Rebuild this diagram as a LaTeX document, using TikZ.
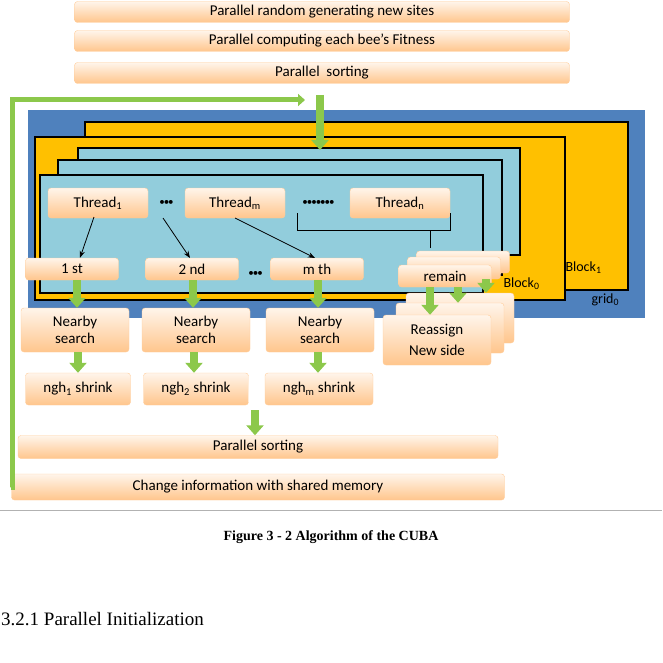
\documentclass[tikz,border=0pt]{standalone}
\usepackage{fontspec}
\setmainfont{Carlito}
\newfontfamily\timesf{Liberation Serif}
\usetikzlibrary{arrows.meta,calc}
\newcommand{\sbs}[1]{\textsubscript{#1}}
\newcommand{\bdots}[1]{\foreach \i in {1,...,#1}{\textbullet\kern-1pt}}
\begin{document}
\begin{tikzpicture}[x=1pt,y=-1pt,
  box/.style={draw=orange!40, rounded corners=3pt, top color=orange!8, bottom color=orange!45, inner sep=0pt, font=\fontsize{15}{17}\selectfont, align=center},
  karrow/.style={draw=black, thick, -{Stealth[length=7pt]}},
  panel/.style={draw=black, line width=1.4pt},
  dots/.style={font=\fontsize{11}{11}\selectfont}]
\useasboundingbox (0,0) rectangle (662,663);
\definecolor{gr}{HTML}{8CC84B}
\tikzset{garrow/.style={draw=gr, line width=8pt, -{Triangle[length=10pt,width=17pt]}}}
% top boxes
\node[box, minimum width=495, minimum height=21] (b1) at (322,12) {Parallel random generating new sites};
\node[box, minimum width=495, minimum height=21] (b2) at (322,41) {Parallel computing each bee’s Fitness};
\node[box, minimum width=495, minimum height=21] (b3) at (322,73) {Parallel\ \ sorting};
% grid and blocks
\fill[fill={rgb,255:red,79;green,129;blue,189}] (28,110) rectangle (645,318);
\draw[panel, fill={rgb,255:red,255;green,192;blue,0}] (85,122) rectangle (628,290);
\draw[panel, fill={rgb,255:red,255;green,192;blue,0}] (35,137) rectangle (565,300);
\draw[panel, fill={rgb,255:red,146;green,205;blue,220}] (78,148) rectangle (520,255);
\draw[panel, fill={rgb,255:red,146;green,205;blue,220}] (58,160) rectangle (502,275);
\draw[panel, fill={rgb,255:red,146;green,205;blue,220}] (40,175) rectangle (483,293);
\node[font=\fontsize{14}{15}\selectfont, anchor=west] (lb1) at (562,268) {Block\sbs{1}};
\node[font=\fontsize{14}{15}\selectfont, anchor=west] (lb0) at (500,284) {Block\sbs{0}};
\node[font=\fontsize{14}{15}\selectfont, anchor=west] (lg) at (588,300) {grid\sbs{0}};
% green arrow into grid
\coordinate (ga) at (320,95);
\coordinate (gb) at (320,150);
\draw[garrow] (ga) -- (gb);
% threads
\node[box, minimum width=100, minimum height=30] (t1) at (98,203) {Thread\sbs{1}};
\node[box, minimum width=100, minimum height=30] (tm) at (235,203) {Thread\sbs{m}};
\node[box, minimum width=100, minimum height=30] (tn) at (400,203) {Thread\sbs{n}};
\node[dots] (d1) at (166,203) {\bdots{3}};
\node[dots] (d2) at (318,203) {\bdots{7}};
% brace
\coordinate (br1) at (297,213);
\coordinate (br2) at (450,213);
\coordinate (brm) at (430,248);
\draw[thick] (br1) -- (297,230) -- (450,230) -- (br2);
\draw[thick] (430,230) -- (brm);
% result labels
\node[box, minimum width=93, minimum height=22] (r1) at (72,269) {1 st};
\node[box, minimum width=93, minimum height=22] (r2) at (192,269) {2 nd};
\node[box, minimum width=93, minimum height=22] (rm) at (317,269) {m th};
\node[dots] (d3) at (255,274) {\bdots{3}};
\node[box, minimum width=93, minimum height=22] (rs3) at (463,262) {};
\node[box, minimum width=93, minimum height=22] (rs2) at (454,268) {};
\node[box, minimum width=93, minimum height=22] (rs) at (445,276) {remain};
\draw[karrow] (94,217) -- (r1.north -| 80,0);
\draw[karrow] (163,218) -- (190,258);
\draw[karrow] (235,218) -- (315,258);
% nearby
\node[box, minimum width=108, minimum height=44] (n1) at (75,330) {Nearby\\search};
\node[box, minimum width=108, minimum height=44] (n2) at (196,330) {Nearby\\search};
\node[box, minimum width=108, minimum height=44] (nm) at (320,330) {Nearby\\search};
\node[box, minimum width=108, minimum height=50] (ra3) at (460,318) {};
\node[box, minimum width=108, minimum height=50] (ra2) at (450,328) {};
\node[box, minimum width=108, minimum height=50] (ra) at (437,340) {Reassign\\[4pt]New side};
\draw[garrow] (r1.south -| 77,0) -- (n1.north -| 77,0);
\draw[garrow] (r2.south -| 193,0) -- (n2.north -| 193,0);
\draw[garrow] (rm.south -| 318,0) -- (nm.north -| 318,0);
\draw[garrow] (rs.south -| 430,0) -- (ra.north -| 430,0);
\draw[garrow] (rs.south -| 458,0) -- (ra2.north -| 458,0);
\draw[garrow] (rs2.south -| 486,0) -- (ra3.north -| 486,0);
% shrink
\node[box, minimum width=105, minimum height=32] (s1) at (78,389) {ngh\sbs{1} shrink};
\node[box, minimum width=105, minimum height=32] (s2) at (196,389) {ngh\sbs{2} shrink};
\node[box, minimum width=108, minimum height=32] (sm) at (319,389) {ngh\sbs{m} shrink};
\draw[garrow] (n1.south -| 78,0) -- (s1.north -| 78,0);
\draw[garrow] (n2.south -| 194,0) -- (s2.north -| 194,0);
\draw[garrow] (nm.south -| 318,0) -- (sm.north -| 318,0);
% bottom
\node[box, minimum width=480, minimum height=23] (ps) at (258,447) {Parallel sorting};
\node[box, minimum width=493, minimum height=26] (ch) at (258,487) {Change information with shared memory};
\coordinate (gc) at (255,410);
\draw[garrow] (gc) -- (ps.north -| gc);
% feedback loop
\coordinate (fb) at (305,100);
\draw[draw=gr, line width=5pt, -{Triangle[length=7pt,width=12pt]}] (ch.west) -- (12,487) -- (12,100) -- (fb);
% page parts
\draw[gray!60, thin] (0,510) -- (662,510);
\node[font=\timesf\bfseries\fontsize{14}{15}\selectfont] (cap) at (331,537) {Figure 3 - 2 Algorithm of the CUBA};
\node[font=\timesf\fontsize{19}{20}\selectfont, anchor=west, inner sep=0pt] (sec) at (1,619) {3.2.1 Parallel Initialization};
\end{tikzpicture}
\end{document}
